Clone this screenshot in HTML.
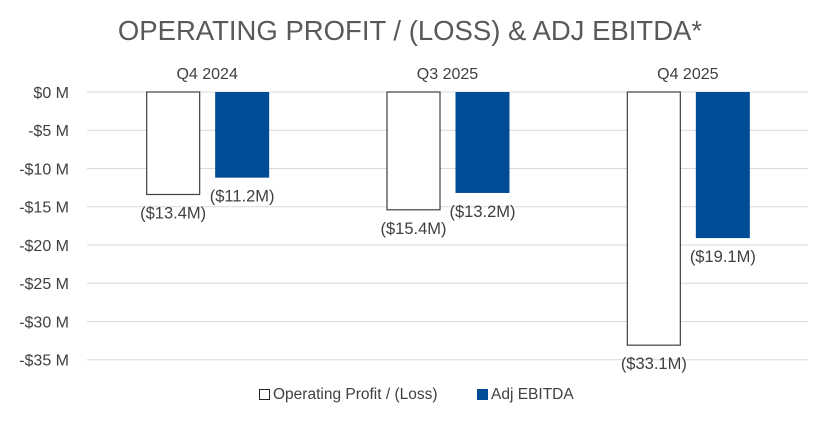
<!DOCTYPE html>
<html><head><meta charset="utf-8"><style>
body{margin:0;background:#fff;}
svg text{font-family:"Liberation Sans",sans-serif;fill:#404040;}
</style></head><body>
<svg id="chart" width="838" height="424" xmlns="http://www.w3.org/2000/svg">
<text x="410" y="40" text-anchor="middle" font-size="27.5" style="fill:#595959">OPERATING PROFIT / (LOSS) &amp; ADJ EBITDA*</text>
<g id="grid"></g><g id="yaxis"></g><g id="bars"></g><g id="labels"></g>
<g>
<rect x="259.5" y="389.5" width="10" height="10" fill="#fff" stroke="#262626" stroke-width="1"/>
<text x="273" y="399" font-size="15.5">Operating Profit / (Loss)</text>
<rect x="477" y="389" width="11" height="11" fill="#004C97"/>
<text x="491" y="399" font-size="15.5">Adj EBITDA</text>
</g>
</svg>
<script>
const categories=["Q4 2024","Q3 2025","Q4 2025"];
const operating=[-13.4,-15.4,-33.1];
const ebitda=[-11.2,-13.2,-19.1];
const opLabels=["($13.4M)","($15.4M)","($33.1M)"];
const ebLabels=["($11.2M)","($13.2M)","($19.1M)"];
const yTicks=[0,-5,-10,-15,-20,-25,-30,-35];
const yTickLabels=["$0 M","-$5 M","-$10 M","-$15 M","-$20 M","-$25 M","-$30 M","-$35 M"];
const NS="http://www.w3.org/2000/svg";
const L=87,R=808,Y0=92,Y35=359.7;
const y=v=>Y0+(-v)/35*(Y35-Y0);
const cw=(R-L)/categories.length;
const cx=i=>L+cw*(i+0.5);
function mk(tag,attrs,parent){const e=document.createElementNS(NS,tag);for(const k in attrs)e.setAttribute(k,attrs[k]);document.getElementById(parent).appendChild(e);return e;}
yTicks.forEach((t,i)=>{
 const g=mk('line',{x1:L,x2:R,y1:y(t),y2:y(t),stroke:'#d9d9d9','stroke-width':1},'grid');
 
 
 const tx=mk('text',{x:69,y:y(t)+6,'text-anchor':'end','font-size':16},'yaxis');
 tx.textContent=yTickLabels[i];
 
 
});
categories.forEach((c,i)=>{
 const ct=mk('text',{x:cx(i),y:79,'text-anchor':'middle','font-size':16},'labels');
 ct.textContent=c;
 
 
 const bw=54;
 const ox=cx(i)-34-bw/2, ex=cx(i)+35-bw/2;
 const b1=mk('rect',{x:ox+0.5,y:y(0),width:bw-1,height:y(operating[i])-y(0),fill:'#fff',stroke:'#404040','stroke-width':1.2},'bars');
 
 
 const b2=mk('rect',{x:ex,y:y(0),width:bw,height:y(ebitda[i])-y(0),fill:'#004C97'},'bars');
 
 
 const l1=mk('text',{x:cx(i)-34,y:y(operating[i])+24,'text-anchor':'middle','font-size':16.5},'labels');
 l1.textContent=opLabels[i];
 
 
 const l2=mk('text',{x:cx(i)+35,y:y(ebitda[i])+24,'text-anchor':'middle','font-size':16.5},'labels');
 l2.textContent=ebLabels[i];
 
 
});
</script>
</body></html>
